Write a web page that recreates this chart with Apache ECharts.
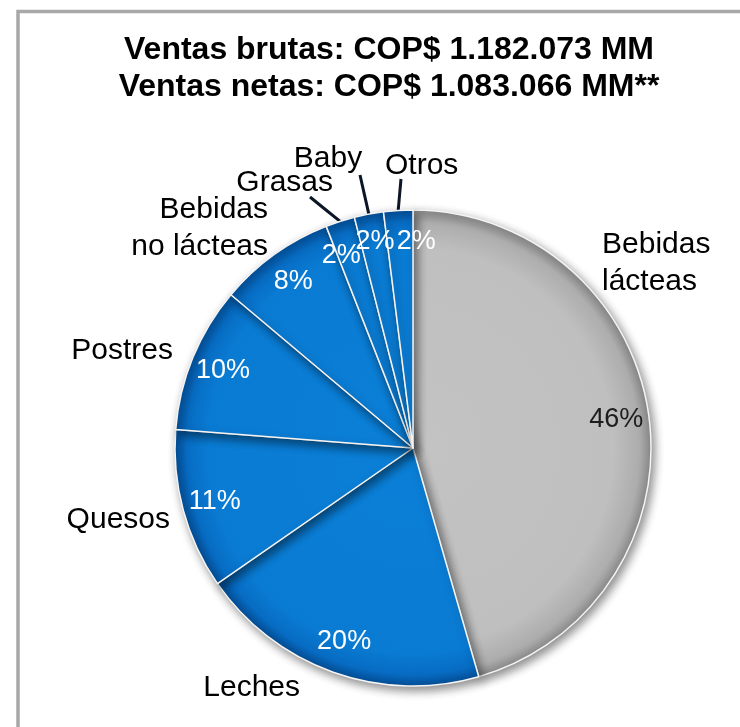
<!DOCTYPE html>
<html>
<head>
<meta charset="utf-8">
<script src="https://cdn.jsdelivr.net/npm/echarts@6/dist/echarts.min.js"></script>
<style>
  html, body { margin: 0; padding: 0; background: #ffffff; }
  #chart { width: 740px; height: 727px; }
</style>
</head>
<body>
<div id="chart"></div>
<script>
// Sales mix by product line (% of gross sales)
const categories = ['Bebidas lácteas', 'Leches', 'Quesos', 'Postres', 'Bebidas no lácteas', 'Grasas', 'Baby', 'Otros'];
const shares = [46, 20, 11, 10, 8, 2, 2, 2];
const titleLines = ['Ventas brutas: COP$ 1.182.073 MM', 'Ventas netas: COP$ 1.083.066 MM**'];

// Geometry of the pie (pixels)
const CX = 413, CY = 448, R = 238;
const FONT = '"Liberation Sans", Arial, sans-serif';

// Placement of the category names around the pie
const namePlacement = {
  'Bebidas lácteas':    { x: 602, y: 263, align: 'left' },
  'Leches':             { x: 300, y: 688, align: 'right' },
  'Quesos':             { x: 170, y: 520, align: 'right' },
  'Postres':            { x: 173, y: 351, align: 'right' },
  'Bebidas no lácteas': { x: 268, y: 228, align: 'right' },
  'Grasas':             { x: 333, y: 183, align: 'right', line: [310, 197] },
  'Baby':               { x: 328, y: 159, align: 'center', line: [360, 175] },
  'Otros':              { x: 385, y: 166, align: 'left', line: [401, 179] }
};

// Small nudges that spread the three narrow-slice percentages apart
const pctNudge = {
  'Grasas': { dx: -9, dy: 3 },
  'Baby':   { dx: 0, dy: -5 },
  'Otros':  { dx: 16, dy: -2 }
};

function radial(stops) {
  return {
    type: 'radial', x: CX, y: CY, r: R, global: true,
    colorStops: stops.map(s => ({ offset: s[0], color: s[1] }))
  };
}
const blueFill = radial([[0, '#0b7fd7'], [0.86, '#0a7bd3'], [0.95, '#076cc3'], [1, '#044f98']]);
const greyFill = radial([[0, '#c3c3c3'], [0.84, '#bfbfbf'], [0.95, '#adadad'], [1, '#8c8c8c']]);

const sliceData = categories.map((name, i) => ({
  name: name,
  value: shares[i],
  itemStyle: { color: i === 0 ? greyFill : blueFill },
  labelLine: { show: !!namePlacement[name].line }
}));

const pctData = categories.map((name, i) => ({
  name: name,
  value: shares[i],
  label: { color: i === 0 ? '#1e1e1e' : '#ffffff' }
}));

const chart = echarts.init(document.getElementById('chart'), null, { renderer: 'canvas' });

chart.setOption({
  animation: false,
  backgroundColor: '#ffffff',
  title: {
    text: titleLines.join('\n'),
    left: 389,
    top: 32,
    textAlign: 'center',
    padding: 0,
    textStyle: {
      fontFamily: FONT,
      fontSize: 32,
      fontWeight: 'bold',
      color: '#000000',
      lineHeight: 37
    }
  },
  graphic: [{
    type: 'rect',
    z: -1,
    shape: { x: 18, y: 11.5, width: 820, height: 820 },
    style: { fill: 'none', stroke: '#a8a8a8', lineWidth: 3.5 }
  }],
  series: [
    {
      // slices with category names outside
      type: 'pie',
      center: [CX, CY],
      radius: [0, R],
      startAngle: 90,
      clockwise: true,
      avoidLabelOverlap: false,
      data: sliceData,
      itemStyle: {
        borderColor: '#f4f4f4',
        borderWidth: 1.5,
        shadowColor: 'rgba(0,0,0,0.45)',
        shadowBlur: 10,
        shadowOffsetX: 3,
        shadowOffsetY: 4
      },
      emphasis: { disabled: true },
      label: {
        show: true,
        position: 'outside',
        fontFamily: FONT,
        fontSize: 30,
        lineHeight: 37,
        color: '#000000',
        formatter: p => p.name.replace('Bebidas ', 'Bebidas\n')
      },
      labelLine: {
        show: false,
        length: 10,
        length2: 10,
        smooth: false,
        lineStyle: { color: '#0b1726', width: 3 }
      },
      labelLayout: function (params) {
        const name = categories[params.dataIndex];
        const p = namePlacement[name];
        const out = { x: p.x, y: p.y, align: p.align, verticalAlign: 'middle', hideOverlap: false };
        if (p.line && params.labelLinePoints) {
          const start = params.labelLinePoints[0];
          out.labelLinePoints = [start, [(start[0] + p.line[0]) / 2, (start[1] + p.line[1]) / 2], p.line];
        }
        return out;
      }
    },
    {
      // percentage labels placed near the rim
      type: 'pie',
      center: [CX, CY],
      radius: [R * 0.70, R],
      startAngle: 90,
      clockwise: true,
      silent: true,
      avoidLabelOverlap: false,
      data: pctData,
      itemStyle: { color: 'rgba(0,0,0,0)', borderWidth: 0 },
      label: {
        show: true,
        position: 'inside',
        fontFamily: FONT,
        fontSize: 27,
        formatter: p => p.value + '%'
      },
      labelLayout: function (params) {
        const n = pctNudge[categories[params.dataIndex]] || { dx: 0, dy: 0 };
        return { dx: n.dx, dy: n.dy, hideOverlap: false };
      },
      labelLine: { show: false }
    }
  ]
});
</script>
</body>
</html>
